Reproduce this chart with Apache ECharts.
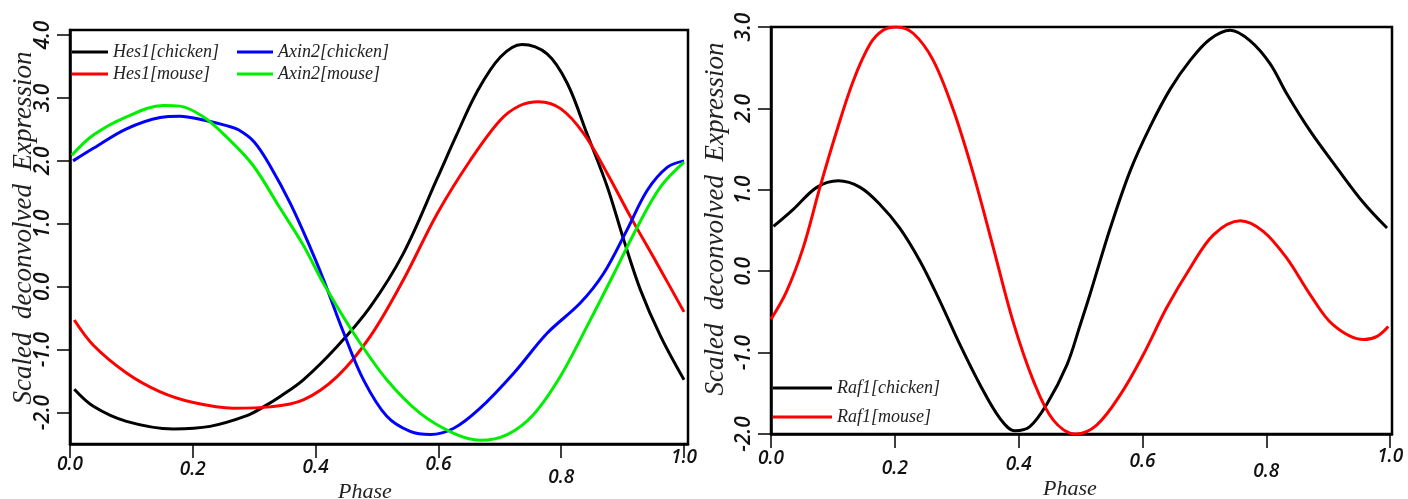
<!DOCTYPE html>
<html><head><meta charset="utf-8">
<script src="https://cdn.jsdelivr.net/npm/echarts@6/dist/echarts.min.js"></script>
<style>html,body{margin:0;padding:0;background:#fff}#c{width:1408px;height:499px}</style>
</head><body><div id="c"></div>
<script>
// ---------- data ----------
const xTickValues = [0, 0.2, 0.4, 0.6, 0.8, 1.0];
const yTicksLeft = [-2, -1, 0, 1, 2, 3, 4];
const yTicksRight = [-2, -1, 0, 1, 2, 3];

const hes1ChickenX = [0.007,0.038,0.092,0.168,0.228,0.288,0.315,0.343,0.380,0.435,0.489,0.543,0.598,0.630,0.663,0.701,0.736,0.777,0.810,0.842,0.875,0.902,0.929,0.962,1.0];
const hes1ChickenY = [-1.63,-1.90,-2.14,-2.26,-2.22,-2.05,-1.91,-1.74,-1.48,-0.95,-0.32,0.53,1.72,2.42,3.10,3.65,3.85,3.70,3.23,2.43,1.59,0.74,-0.05,-0.79,-1.48];

const hes1MouseX = [0.007,0.038,0.092,0.147,0.201,0.266,0.326,0.380,0.435,0.489,0.543,0.598,0.652,0.701,0.733,0.763,0.799,0.837,0.875,0.913,0.956,1.0];
const hes1MouseY = [-0.53,-0.93,-1.37,-1.67,-1.84,-1.93,-1.91,-1.80,-1.43,-0.79,0.11,1.16,2.01,2.65,2.88,2.94,2.83,2.43,1.80,1.11,0.37,-0.40];

const axin2ChickenX = [0.005,0.038,0.092,0.147,0.179,0.217,0.255,0.275,0.300,0.326,0.359,0.391,0.413,0.446,0.478,0.516,0.554,0.587,0.625,0.668,0.723,0.777,0.831,0.869,0.907,0.940,0.973,1.0];
const axin2ChickenY = [2.00,2.20,2.51,2.69,2.71,2.65,2.56,2.49,2.30,1.92,1.32,0.63,0.11,-0.74,-1.48,-2.06,-2.30,-2.35,-2.25,-1.93,-1.37,-0.74,-0.26,0.21,0.90,1.53,1.90,2.00];

const axin2MouseX = [0.003,0.038,0.092,0.152,0.179,0.217,0.255,0.298,0.342,0.380,0.413,0.462,0.516,0.570,0.625,0.668,0.712,0.755,0.799,0.842,0.886,0.924,0.962,1.0];
const axin2MouseY = [2.09,2.41,2.70,2.88,2.87,2.70,2.38,1.93,1.25,0.66,0.05,-0.74,-1.48,-2.01,-2.33,-2.44,-2.35,-2.03,-1.42,-0.63,0.21,0.95,1.59,1.98];

const raf1ChickenX = [0.004,0.036,0.074,0.109,0.144,0.176,0.208,0.241,0.273,0.305,0.338,0.370,0.394,0.418,0.445,0.478,0.499,0.515,0.548,0.580,0.612,0.645,0.677,0.709,0.742,0.774,0.806,0.833,0.871,0.914,0.957,0.995];
const raf1ChickenY = [0.55,0.76,1.03,1.11,1.03,0.82,0.53,0.12,-0.37,-0.90,-1.40,-1.81,-1.96,-1.91,-1.64,-1.15,-0.67,-0.29,0.53,1.23,1.77,2.24,2.59,2.85,2.96,2.83,2.55,2.18,1.72,1.27,0.84,0.53];

const raf1MouseX = [0.0,0.025,0.052,0.079,0.106,0.133,0.160,0.181,0.203,0.230,0.262,0.295,0.327,0.359,0.391,0.424,0.456,0.492,0.526,0.564,0.601,0.639,0.677,0.715,0.758,0.795,0.833,0.871,0.908,0.957,0.979,0.997];
const raf1MouseY = [-0.59,-0.25,0.29,1.03,1.72,2.34,2.79,2.96,3.00,2.92,2.59,1.97,1.19,0.29,-0.62,-1.35,-1.83,-2.00,-1.89,-1.52,-1.03,-0.45,0.04,0.45,0.62,0.49,0.16,-0.29,-0.66,-0.84,-0.80,-0.68];

// ---------- helpers ----------
const pairs = (xs, ys) => xs.map((x, i) => [x, ys[i]]);
const SERIF = '"Liberation Serif", "DejaVu Serif", serif';
const TICKFONT = '"Open Sans", "Liberation Sans", sans-serif';
const labelPadLeft = [7, 12, 10, 7, 20, 0];
const labelPadRight = [2, 12, 8, 5, 15, 0];
function richFor(pads) {
  const r = {};
  pads.forEach((p, i) => {
    r['p' + i] = { padding: [p, 0, 0, 0], fontSize: 19, fontFamily: TICKFONT, fontStyle: 'italic', fontWeight: 600, color: '#111' };
  });
  return r;
}
function xAxisCfg(gi, max, pads, margin) {
  return {
    gridIndex: gi, type: 'value', min: 0, max: max,
    axisLine: { show: true, onZero: false, lineStyle: { color: '#000', width: 2.5 } },
    axisTick: { show: true, length: 14, customValues: xTickValues, lineStyle: { color: '#000', width: 1.5 } },
    axisLabel: {
      customValues: xTickValues, margin: margin,
      formatter: (v) => { const i = xTickValues.findIndex(t => Math.abs(t - v) < 1e-9); return '{p' + i + '|' + v.toFixed(1) + '}'; },
      rich: richFor(pads)
    },
    splitLine: { show: false }
  };
}
function yAxisCfg(gi, min, max, ticks) {
  return {
    gridIndex: gi, type: 'value', min: min, max: max,
    axisLine: { show: true, onZero: false, lineStyle: { color: '#000', width: 2.5 } },
    axisTick: { show: true, length: 13, customValues: ticks, lineStyle: { color: '#000', width: 1.5 } },
    axisLabel: {
      customValues: ticks, rotate: 90, margin: 16,
      formatter: (v) => v.toFixed(1),
      fontSize: 21, fontFamily: TICKFONT, fontStyle: 'italic', fontWeight: 600, color: '#111'
    },
    splitLine: { show: false }
  };
}
function lineSeries(name, xi, data, color) {
  return { name, type: 'line', xAxisIndex: xi, yAxisIndex: xi, data, smooth: 0.35,
    showSymbol: false, symbol: 'none', lineStyle: { color, width: 3 }, itemStyle: { color }, animation: false };
}
const legendText = { fontFamily: SERIF, fontStyle: 'italic', fontSize: 18, color: '#222', lineHeight: 20 };

const chart = echarts.init(document.getElementById('c'), null, { renderer: 'canvas' });
chart.setOption({
  backgroundColor: '#fff',
  animation: false,
  grid: [
    { left: 70, top: 30, width: 618, height: 414, show: true, borderColor: '#000', borderWidth: 2.5, containLabel: false },
    { left: 771, top: 27, width: 621, height: 407, show: true, borderColor: '#000', borderWidth: 2.5, containLabel: false }
  ],
  xAxis: [ xAxisCfg(0, 1.0065, labelPadLeft, 4), xAxisCfg(1, 1.003, labelPadRight, 13) ],
  yAxis: [ yAxisCfg(0, -2.5, 4.08, yTicksLeft), yAxisCfg(1, -2, 3, yTicksRight) ],
  legend: [
    { data: ['Hes1[chicken]', 'Hes1[mouse]'], orient: 'vertical', left: 72, top: 42, padding: 0, itemGap: 2,
      itemWidth: 36, itemHeight: 3, icon: 'rect', selectedMode: false, textStyle: legendText },
    { data: ['Axin2[chicken]', 'Axin2[mouse]'], orient: 'vertical', left: 237, top: 42, padding: 0, itemGap: 2,
      itemWidth: 36, itemHeight: 3, icon: 'rect', selectedMode: false, textStyle: legendText },
    { data: ['Raf1[chicken]', 'Raf1[mouse]'], orient: 'vertical', left: 773, top: 378, padding: 0, itemGap: 9,
      itemWidth: 59, itemHeight: 3, icon: 'rect', selectedMode: false, textStyle: legendText }
  ],
  series: [
    lineSeries('Hes1[chicken]', 0, pairs(hes1ChickenX, hes1ChickenY), '#000000'),
    lineSeries('Hes1[mouse]', 0, pairs(hes1MouseX, hes1MouseY), '#ff0000'),
    lineSeries('Axin2[chicken]', 0, pairs(axin2ChickenX, axin2ChickenY), '#0000ff'),
    lineSeries('Axin2[mouse]', 0, pairs(axin2MouseX, axin2MouseY), '#00ee00'),
    lineSeries('Raf1[chicken]', 1, pairs(raf1ChickenX, raf1ChickenY), '#000000'),
    lineSeries('Raf1[mouse]', 1, pairs(raf1MouseX, raf1MouseY), '#ff0000')
  ],
  graphic: [
    { type: 'text', x: 24, y: 228, rotation: Math.PI / 2, z: 10,
      style: { text: 'Scaled  deconvolved  Expression', font: 'italic 27px "Liberation Serif"', fill: '#222', align: 'center', verticalAlign: 'middle' } },
    { type: 'text', x: 716, y: 219, rotation: Math.PI / 2, z: 10,
      style: { text: 'Scaled  deconvolved  Expression', font: 'italic 27px "Liberation Serif"', fill: '#222', align: 'center', verticalAlign: 'middle' } },
    { type: 'text', x: 365, y: 492, z: 10,
      style: { text: 'Phase', font: 'italic 22px "Liberation Serif"', fill: '#222', align: 'center', verticalAlign: 'middle' } },
    { type: 'text', x: 1070, y: 489, z: 10,
      style: { text: 'Phase', font: 'italic 22px "Liberation Serif"', fill: '#222', align: 'center', verticalAlign: 'middle' } },
    { type: 'rect', shape: { x: 700, y: 446, width: 22, height: 53 }, style: { fill: '#fff' }, z: 100 }
  ]
});
</script>
</body></html>
